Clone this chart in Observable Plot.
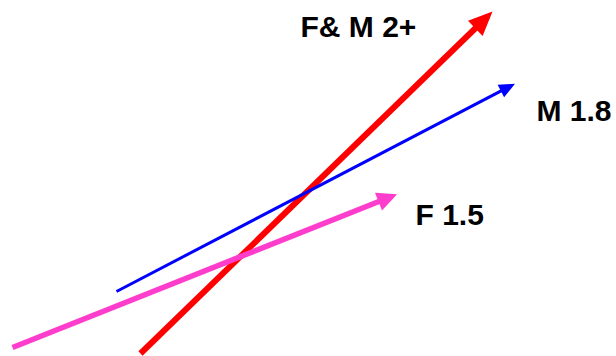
<!DOCTYPE html>
<html>
<head>
<meta charset="utf-8">
<script src="https://cdn.jsdelivr.net/npm/d3@7"></script>
<script src="https://cdn.jsdelivr.net/npm/@observablehq/plot@0.6"></script>
<style>
  html, body { margin: 0; padding: 0; background: #fff; }
  #chart svg { display: block; }
</style>
</head>
<body>
<div id="chart"></div>
<script>
// Series (diagram coordinates, y measured upward from the bottom)
const series = ["F& M 2+", "M 1.8", "F 1.5"];
const startX = [140, 116, 12];
const startY = [3, 65, 9];
const endX   = [487, 511, 391];
const endY   = [340, 271, 160];
// Label anchor points (same coordinate system)
const labelX = [300, 536, 415];
const labelY = [320, 236, 132];

// Styles
const colors  = ["#ff0000", "#0000ff", "#ff3dcc"];
const widths  = [6, 3, 5.5];
const heads   = [[24, 10.5, 7], [16, 7, 4], [20, 9.5, 6]]; // length, half-width, overshoot

function triangleHead(len, halfW, overshoot) {
  return (color) => {
    const m = d3.create("svg:marker")
      .attr("viewBox", `0 ${-halfW} ${len} ${2 * halfW}`)
      .attr("markerUnits", "userSpaceOnUse")
      .attr("markerWidth", len)
      .attr("markerHeight", 2 * halfW)
      .attr("refX", len - overshoot)
      .attr("refY", 0)
      .attr("orient", "auto")
      .attr("overflow", "visible");
    m.append("path")
      .attr("d", `M0,${-halfW}L${len},0L0,${halfW}Z`)
      .attr("fill", color)
      .attr("stroke", "none");
    return m.node();
  };
}

const rows = series.map((name, i) => ({
  name, x1: startX[i], y1: startY[i], x2: endX[i], y2: endY[i],
  lx: labelX[i], ly: labelY[i]
}));

const marks = rows.map((r, i) => Plot.link([r], {
  x1: "x1", y1: "y1", x2: "x2", y2: "y2",
  stroke: colors[i],
  strokeWidth: widths[i],
  strokeLinecap: "butt",
  markerEnd: triangleHead(...heads[i])
}));

marks.push(Plot.text(rows, {
  x: "lx", y: "ly", text: "name",
  textAnchor: "start",
  lineAnchor: "bottom",
  fill: "#000",
  fontSize: 30,
  fontWeight: "bold",
  fontFamily: "Liberation Sans, Arial, sans-serif"
}));

const chart = Plot.plot({
  width: 616,
  height: 356,
  margin: 0,
  x: {domain: [0, 616], axis: null},
  y: {domain: [0, 356], axis: null},
  style: {background: "#fff", overflow: "visible"},
  marks
});
document.getElementById("chart").append(chart);
</script>
</body>
</html>
